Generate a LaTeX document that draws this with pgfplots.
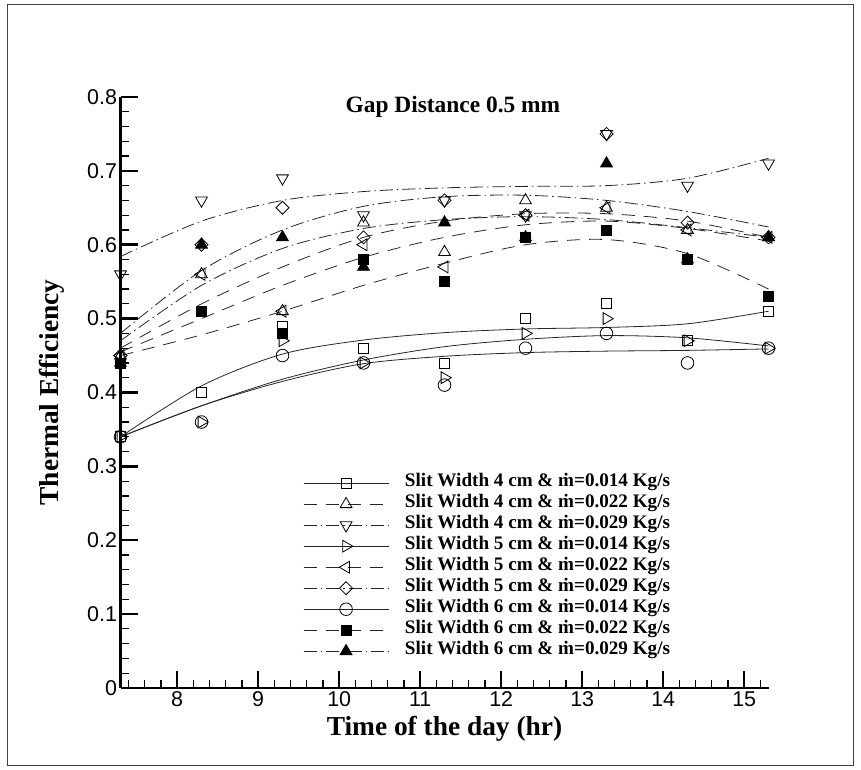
\documentclass[border=0pt]{standalone}
\usepackage{fontspec}
\setmainfont{Liberation Serif}
\newfontfamily\arialf{Liberation Sans}
\usepackage{pgfplots}
\pgfplotsset{compat=1.18}
\pgfplotsset{
  s014/.style={solid, line width=0.8bp, black!85},
  s022/.style={dash pattern=on 13bp off 9bp, line width=0.8bp, black!85},
  s029/.style={dash pattern=on 13bp off 4bp on 1.5bp off 4bp, line width=0.8bp, black!85},
  mk/.style={mark options={solid, black, line width=0.8bp}},
  mA/.style={mark=square, mark size=5bp, mk},
  mB/.style={mark=triangle, mark size=6.8bp, mk},
  mC/.style={mark=triangle, mark size=6.8bp, mark options={solid, black, line width=0.8bp, rotate=180}},
  mD/.style={mark=triangle, mark size=6.8bp, mark options={solid, black, line width=0.8bp, rotate=-90}},
  mE/.style={mark=triangle, mark size=6.8bp, mark options={solid, black, line width=0.8bp, rotate=90}},
  mF/.style={mark=square, mark size=4.6bp, mark options={solid, black, line width=0.8bp, rotate=45}},
  mG/.style={mark=o, mark size=6.3bp, mk},
  mH/.style={mark=square*, mark size=5bp, mark options={solid, black, fill=black, line width=0.8bp}},
  mI/.style={mark=triangle*, mark size=6.8bp, mark options={solid, black, fill=black, line width=0.8bp}},
}
\begin{document}
\begin{tikzpicture}[x=1bp,y=1bp]
\path (0,0) rectangle (861,770);
\draw[line width=1bp, black!75] (7,4) rectangle (853,765);
\begin{axis}[
  at={(120.5bp,82bp)}, anchor=south west,
  scale only axis, width=648bp, height=591bp,
  xmin=7.3, xmax=15.3, ymin=0, ymax=0.8,
  axis lines=left, axis line style={-, line width=2.5bp, black},
  tick align=inside,
  major tick length=17bp, minor tick length=8bp,
  every major tick/.append style={line width=2.5bp, black},
  every minor tick/.append style={line width=1.2bp, black},
  xtick={8,9,10,11,12,13,14,15},
  minor xtick={7.4,7.6,7.8,8.2,8.4,8.6,8.8,9.2,9.4,9.6,9.8,10.2,10.4,10.6,10.8,11.2,11.4,11.6,11.8,12.2,12.4,12.6,12.8,13.2,13.4,13.6,13.8,14.2,14.4,14.6,14.8,15.2},
  ytick={0,0.1,0.2,0.3,0.4,0.5,0.6,0.7,0.8},
  minor y tick num=4,
  /pgf/number format/assume math mode=true,
  /pgf/number format/fixed,
  ticklabel style={font=\arialf\fontsize{21.5}{24}\selectfont},
  xlabel={Time of the day (hr)},
  ylabel={Thermal Efficiency},
  label style={font=\bfseries\fontsize{27.5}{30}\selectfont},
  xlabel style={at={(axis description cs:0.5,-0.0694)}, anchor=center},
  ylabel style={at={(axis description cs:-0.1057,0.5)}, anchor=center},
  clip=false,
  legend image code/.code={\draw[mark repeat=2, mark phase=2, #1] plot coordinates {(0bp,0bp) (42.5bp,0bp) (85bp,0bp)};},
  legend style={at={(axis description cs:0.2816,0.3646)}, anchor=north west, draw=none, fill=none,
    inner sep=0pt, font=\bfseries\fontsize{19.2}{21}\selectfont, row sep=0pt,
    nodes={inner sep=0pt, text height=14bp, text depth=7bp},
    /tikz/every odd column/.append style={column sep=16bp}},
  legend cell align=left,
]
% fitted curves
\addplot[s014, smooth, forget plot] coordinates {(7.3,0.34) (8.3,0.409) (9.3,0.452) (10.3,0.471) (11.3,0.481) (12.3,0.486) (13.3,0.488) (14.3,0.493) (15.3,0.51)};
\addplot[s014, smooth, forget plot] coordinates {(7.3,0.34) (8.3,0.382) (9.3,0.418) (10.3,0.444) (11.3,0.462) (12.3,0.472) (13.3,0.477) (14.3,0.474) (15.3,0.463)};
\addplot[s014, smooth, forget plot] coordinates {(7.3,0.34) (8.3,0.382) (9.3,0.415) (10.3,0.439) (11.3,0.449) (12.3,0.454) (13.3,0.456) (14.3,0.457) (15.3,0.459)};
\addplot[s022, smooth, forget plot] coordinates {(7.3,0.46) (8.3,0.52) (9.3,0.57) (10.3,0.61) (11.3,0.632) (12.3,0.642) (13.3,0.642) (14.3,0.632) (15.3,0.61)};
\addplot[s022, smooth, forget plot] coordinates {(7.3,0.455) (8.3,0.50) (9.3,0.545) (10.3,0.583) (11.3,0.61) (12.3,0.627) (13.3,0.632) (14.3,0.622) (15.3,0.605)};
\addplot[s022, smooth, forget plot] coordinates {(7.3,0.45) (8.3,0.478) (9.3,0.51) (10.3,0.545) (11.3,0.575) (12.3,0.60) (13.3,0.607) (14.3,0.588) (15.3,0.54)};
\addplot[s029, smooth, forget plot] coordinates {(7.3,0.584) (8.3,0.632) (9.3,0.66) (10.3,0.672) (11.3,0.677) (12.3,0.679) (13.3,0.68) (14.3,0.69) (15.3,0.717)};
\addplot[s029, smooth, forget plot] coordinates {(7.3,0.48) (8.3,0.565) (9.3,0.62) (10.3,0.652) (11.3,0.665) (12.3,0.667) (13.3,0.66) (14.3,0.645) (15.3,0.624)};
\addplot[s029, smooth, forget plot] coordinates {(7.3,0.47) (8.3,0.545) (9.3,0.595) (10.3,0.622) (11.3,0.634) (12.3,0.638) (13.3,0.634) (14.3,0.623) (15.3,0.61)};
% data markers
\addplot[only marks, mA, forget plot] coordinates {(7.3,0.34) (8.3,0.40) (9.3,0.49) (10.3,0.46) (11.3,0.44) (12.3,0.50) (13.3,0.52) (14.3,0.47) (15.3,0.51)};
\addplot[only marks, mB, forget plot] coordinates {(7.3,0.45) (8.3,0.56) (9.3,0.51) (10.3,0.63) (11.3,0.59) (12.3,0.66) (13.3,0.65) (14.3,0.62) (15.3,0.61)};
\addplot[only marks, mC, forget plot] coordinates {(7.3,0.56) (8.3,0.66) (9.3,0.69) (10.3,0.64) (11.3,0.66) (12.3,0.64) (13.3,0.75) (14.3,0.68) (15.3,0.71)};
\addplot[only marks, mD, forget plot] coordinates {(7.3,0.34) (8.3,0.36) (9.3,0.47) (10.3,0.44) (11.3,0.42) (12.3,0.48) (13.3,0.50) (14.3,0.47) (15.3,0.46)};
\addplot[only marks, mE, forget plot] coordinates {(7.3,0.45) (8.3,0.56) (9.3,0.51) (10.3,0.60) (11.3,0.57) (12.3,0.64) (13.3,0.65) (14.3,0.62) (15.3,0.61)};
\addplot[only marks, mF, forget plot] coordinates {(7.3,0.45) (8.3,0.60) (9.3,0.65) (10.3,0.61) (11.3,0.66) (12.3,0.64) (13.3,0.75) (14.3,0.63) (15.3,0.61)};
\addplot[only marks, mG, forget plot] coordinates {(7.3,0.34) (8.3,0.36) (9.3,0.45) (10.3,0.44) (11.3,0.41) (12.3,0.46) (13.3,0.48) (14.3,0.44) (15.3,0.46)};
\addplot[only marks, mH, forget plot] coordinates {(7.3,0.44) (8.3,0.51) (9.3,0.48) (10.3,0.58) (11.3,0.55) (12.3,0.61) (13.3,0.62) (14.3,0.58) (15.3,0.53)};
\addplot[only marks, mI, forget plot] coordinates {(7.3,0.44) (8.3,0.60) (9.3,0.61) (10.3,0.57) (11.3,0.63) (12.3,0.61) (13.3,0.71) (14.3,0.58) (15.3,0.61)};
% legend
\addlegendimage{s014, mA}\addlegendentry{Slit Width 4 cm \& \.{m}=0.014 Kg/s}
\addlegendimage{s022, mB}\addlegendentry{Slit Width 4 cm \& \.{m}=0.022 Kg/s}
\addlegendimage{s029, mC}\addlegendentry{Slit Width 4 cm \& \.{m}=0.029 Kg/s}
\addlegendimage{s014, mD}\addlegendentry{Slit Width 5 cm \& \.{m}=0.014 Kg/s}
\addlegendimage{s022, mE}\addlegendentry{Slit Width 5 cm \& \.{m}=0.022 Kg/s}
\addlegendimage{s029, mF}\addlegendentry{Slit Width 5 cm \& \.{m}=0.029 Kg/s}
\addlegendimage{s014, mG}\addlegendentry{Slit Width 6 cm \& \.{m}=0.014 Kg/s}
\addlegendimage{s022, mH}\addlegendentry{Slit Width 6 cm \& \.{m}=0.022 Kg/s}
\addlegendimage{s029, mI}\addlegendentry{Slit Width 6 cm \& \.{m}=0.029 Kg/s}
\node[font=\bfseries\fontsize{23.5}{26}\selectfont, anchor=center] at (rel axis cs:0.513,0.983) {Gap Distance 0.5 mm};
\end{axis}
\end{tikzpicture}
\end{document}
